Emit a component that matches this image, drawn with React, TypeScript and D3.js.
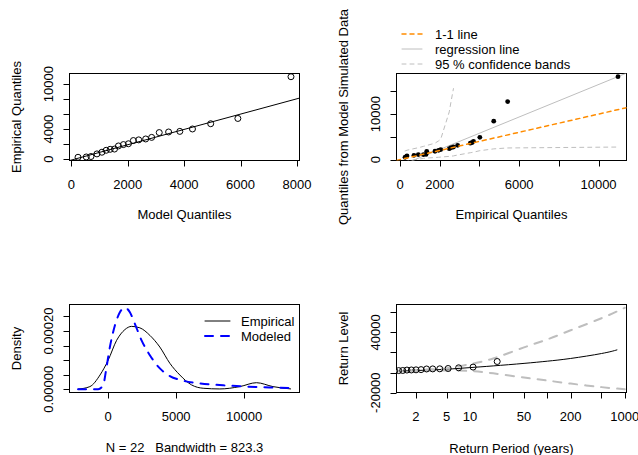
import React from 'react';
import * as d3 from 'd3';

const W = 638;
const H = 455;

// ---------- Panel 1 & 2 : quantile data ----------
const empiricalQuantiles = [250, 290, 350, 700, 920, 1180, 1310, 1345, 1760, 1940, 2050, 2480, 2570, 2690, 2900, 3540, 3620, 3700, 4020, 4720, 5420, 10980];
const modelQuantiles = [236, 529, 695, 907, 1083, 1235, 1377, 1529, 1670, 1846, 2023, 2199, 2389, 2636, 2848, 3117, 3449, 3847, 4296, 4942, 5906, 7790];
const qqLineCoef = [-120, 1.02]; // intercept, slope

const simulatedQuantiles = [500, 600, 790, 940, 1090, 1100, 1120, 1810, 1830, 2030, 2190, 2400, 2620, 2760, 3130, 3600, 3720, 4000, 4880, 8440, 12750, 18220];
const regressionCoef = [-1350, 1.785];
const bandUpper = [1900, 1950, 2050, 2400, 2600, 2900, 3050, 3100, 3600, 4100, 4500, 10500, 12800, 15600, NaN, NaN, NaN, NaN, NaN, NaN, NaN, NaN];
const bandLower = [-600, -500, -400, -50, 100, 250, 320, 330, 450, 500, 550, 700, 750, 800, 1000, 1500, 1560, 1620, 1950, 2350, 2550, 2750];

const p1XTicks = [0, 2000, 4000, 6000, 8000];
const p1XLabels = ['0', '2000', '4000', '6000', '8000'];
const p1YTicks = [0, 2000, 4000, 6000, 8000, 10000];
const p1YLabels = ['0', '', '4000', '', '', '10000'];

const p2XTicks = [0, 2000, 4000, 6000, 8000, 10000];
const p2XLabels = ['0', '2000', '', '6000', '', '10000'];
const p2YTicks = [0, 5000, 10000, 15000];
const p2YLabels = ['0', '', '10000', ''];
const p2Legend = ['1-1 line', 'regression line', '95 % confidence bands'];

// ---------- Panel 3 : density ----------
const densityEmpX = [-2220, -1350, -600, 0, 620, 1230, 1720, 2330, 3070, 3800, 4540, 5270, 6130, 6990, 8210, 9680, 10910, 12130, 13450];
const densityEmpY = [0.0000005, 0.000009, 0.000049, 0.0001, 0.000168, 0.000205, 0.000216, 0.000211, 0.000185, 0.000145, 0.000089, 0.000049, 0.000015, 0.0000034, 0.000001, 0.000009, 0.0000225, 0.000009, 0.000001];
const densityModX = [-2220, -735, -368, -118, 125, 493, 860, 1228, 1596, 1963, 2456, 3066, 3801, 4537, 5515, 6743, 8456, 10176, 11890, 13450];
const densityModY = [0, 0, 0.0000147, 0.000077, 0.000145, 0.000219, 0.0002645, 0.00028, 0.0002645, 0.000225, 0.000168, 0.000117, 0.0000716, 0.0000453, 0.0000293, 0.0000204, 0.0000136, 0.0000092, 0.000006, 0.000004];
const p3XTicks = [0, 5000, 10000];
const p3XLabels = ['0', '5000', '10000'];
const p3YTicks = [0, 0.00005, 0.0001, 0.00015, 0.0002, 0.00025];
const p3YLabels = ['0.00000', '', '', '', '0.00020', ''];
const p3Legend = ['Empirical', 'Modeled'];
const p3Sub = 'N = 22   Bandwidth = 823.3';

// ---------- Panel 4 : return levels ----------
const rpPoints = [0.3195, 0.4095, 0.491, 0.572, 0.655, 0.744, 0.840, 0.947, 1.066, 1.201, 1.356, 1.537, 1.753, 2.014, 2.340, 2.756, 3.308, 4.080, 5.233, 7.153, 10.99, 22.5];
const rpLevelT = [1.05, 1.5, 2, 3, 5, 10, 20, 50, 100, 200, 500, 800];
const rpLevel = [1150, 1650, 2000, 2500, 3300, 4900, 6600, 9100, 11300, 14000, 18900, 22600];
const rpCiT = [1.05, 1.5, 2, 3, 5, 10, 20, 50, 100, 200, 500, 1000];
const rpUpper = [1450, 2000, 2500, 3200, 4300, 8300, 14000, 25000, 33000, 42000, 54000, 64400];
const rpLower = [850, 1300, 1500, 1800, 2100, 1500, -800, -5000, -8000, -11000, -14500, -16600];
const p4XTicks = [2, 5, 10, 20, 50, 100, 200, 500, 1000];
const p4XLabels = ['2', '5', '10', '', '50', '', '200', '', '1000'];
const p4YTicks = [-20000, 0, 20000, 40000, 60000];
const p4YLabels = ['-20000', '', '', '40000', ''];

const FONT = '"Liberation Sans", Arial, Helvetica, sans-serif';
const FS = 13;
const GRAY = '#BEBEBE';

type Box = { l: number; r: number; t: number; b: number };
const B1: Box = { l: 69.5, r: 299.5, t: 73.5, b: 160.5 };
const B2: Box = { l: 396.5, r: 626.5, t: 73.5, b: 160.5 };
const B3: Box = { l: 69.5, r: 299.5, t: 304.5, b: 392.5 };
const B4: Box = { l: 396.5, r: 626.5, t: 304.5, b: 392.5 };

function pad(ext: [number, number]): [number, number] {
  const r = ext[1] - ext[0];
  return [ext[0] - 0.04 * r, ext[1] + 0.04 * r];
}

function Axes({ box, x, y, xt, xl, yt, yl, id }: any) {
  return (
    <g>
      <rect x={box.l} y={box.t} width={box.r - box.l} height={box.b - box.t} fill="none" stroke="#000" strokeWidth={1} />
      {xt.map((t: number, i: number) => (
        <g key={'x' + i}>
          <line x1={Math.round(x(t)) + 0.5} x2={Math.round(x(t)) + 0.5} y1={box.b} y2={box.b + 6} stroke="#000" />
          {xl[i] ? (
            <text x={x(t)} y={box.b + 24} dy="0.35em" textAnchor="middle" fontSize={FS} fontFamily={FONT} fill="#000">{xl[i]}</text>
          ) : null}
        </g>
      ))}
      {yt.map((t: number, i: number) => (
        <g key={'y' + i}>
          <line x1={box.l - 6} x2={box.l} y1={Math.round(y(t)) + 0.5} y2={Math.round(y(t)) + 0.5} stroke="#000" />
          {yl[i] ? (
            <text transform={`translate(${box.l - 21},${y(t)}) rotate(-90)`} dy="0.35em" textAnchor="middle" fontSize={FS} fontFamily={FONT} fill="#000">{yl[i]}</text>
          ) : null}
        </g>
      ))}
      <clipPath id={id}>
        <rect x={box.l} y={box.t} width={box.r - box.l} height={box.b - box.t} />
      </clipPath>
    </g>
  );
}

function Label({ x, y, text, rotate }: any) {
  return (
    <text transform={`translate(${x},${y})${rotate ? ' rotate(-90)' : ''}`} dy="0.35em" textAnchor="middle" fontSize={FS} fontFamily={FONT} fill="#000" style={{ whiteSpace: 'pre' }}>{text}</text>
  );
}

export default function App() {
  // Panel 1
  const x1 = d3.scaleLinear().domain(pad(d3.extent(modelQuantiles) as any)).range([B1.l, B1.r]);
  const y1 = d3.scaleLinear().domain(pad(d3.extent(empiricalQuantiles) as any)).range([B1.b, B1.t]);
  const d1 = x1.domain();
  const qqLine = d3.line()([[x1(d1[0]), y1(qqLineCoef[0] + qqLineCoef[1] * d1[0])], [x1(d1[1]), y1(qqLineCoef[0] + qqLineCoef[1] * d1[1])]]);

  // Panel 2
  const x2 = d3.scaleLinear().domain(pad(d3.extent(empiricalQuantiles) as any)).range([B2.l, B2.r]);
  const y2 = d3.scaleLinear().domain(pad(d3.extent(simulatedQuantiles) as any)).range([B2.b, B2.t]);
  const d2 = x2.domain();
  const oneLine = d3.line()([[x2(d2[0]), y2(d2[0])], [x2(d2[1]), y2(d2[1])]]);
  const regLine = d3.line()([[x2(d2[0]), y2(regressionCoef[0] + regressionCoef[1] * d2[0])], [x2(d2[1]), y2(regressionCoef[0] + regressionCoef[1] * d2[1])]]);
  const bandGen = d3.line<number>().defined((d) => !isNaN(d)).x((_, i) => x2(empiricalQuantiles[i])).y((d) => y2(d));

  // Panel 3
  const x3 = d3.scaleLinear().domain(pad([densityEmpX[0], densityEmpX[densityEmpX.length - 1]])).range([B3.l, B3.r]);
  const y3 = d3.scaleLinear().domain(pad([0, d3.max(densityModY.concat(densityEmpY)) as number])).range([B3.b, B3.t]);
  const empLine = d3.line<number>().x((d) => x3(d)).y((_, i) => y3(densityEmpY[i])).curve(d3.curveMonotoneX)(densityEmpX);
  const modLine = d3.line<number>().x((d) => x3(d)).y((_, i) => y3(densityModY[i])).curve(d3.curveMonotoneX)(densityModX);

  // Panel 4
  const x4 = d3.scaleLog().domain([1.127, 1052]).range([B4.l, B4.r]);
  const y4 = d3.scaleLinear().domain(pad([d3.min(rpLower) as number, d3.max(rpUpper) as number])).range([B4.b, B4.t]);
  const rlGen = (ts: number[], arr: number[]) => d3.line<number>().x((d) => x4(d)).y((_, i) => y4(arr[i])).curve(d3.curveNatural)(ts);

  return (
    <svg width={W} height={H} style={{ position: 'absolute', left: 0, top: 0, background: '#fff' }} xmlns="http://www.w3.org/2000/svg">
      <rect x={0} y={0} width={W} height={H} fill="#fff" />

      {/* Panel 1 */}
      <Axes box={B1} x={x1} y={y1} xt={p1XTicks} xl={p1XLabels} yt={p1YTicks} yl={p1YLabels} id="c1" />
      <g clipPath="url(#c1)">
        <path d={qqLine || ''} stroke="#000" fill="none" strokeWidth={1} />
        {modelQuantiles.map((m, i) => (
          <circle key={i} cx={x1(m)} cy={y1(empiricalQuantiles[i])} r={3} fill="none" stroke="#000" strokeWidth={1} />
        ))}
      </g>
      <Label x={(B1.l + B1.r) / 2} y={B1.b + 54} text="Model Quantiles" />
      <Label x={16} y={(B1.t + B1.b) / 2} text="Empirical Quantiles" rotate />

      {/* Panel 2 */}
      <Axes box={B2} x={x2} y={y2} xt={p2XTicks} xl={p2XLabels} yt={p2YTicks} yl={p2YLabels} id="c2" />
      <g clipPath="url(#c2)">
        <path d={bandGen(bandUpper) || ''} stroke={GRAY} fill="none" strokeDasharray="4,4" strokeLinecap="round" />
        <path d={bandGen(bandLower) || ''} stroke={GRAY} fill="none" strokeDasharray="4,4" strokeLinecap="round" />
        <path d={regLine || ''} stroke={GRAY} fill="none" strokeWidth={1} />
        {empiricalQuantiles.map((e, i) => (
          <circle key={i} cx={x2(e)} cy={y2(simulatedQuantiles[i])} r={2.4} fill="#000" />
        ))}
        <path d={oneLine || ''} stroke="#FF8C00" fill="none" strokeWidth={1.5} strokeDasharray="4,4" strokeLinecap="round" />
      </g>
      {p2Legend.map((t, i) => (
        <g key={i}>
          <line x1={402} x2={422} y1={34 + i * 15} y2={34 + i * 15}
            stroke={i === 0 ? '#FF8C00' : GRAY} strokeWidth={i === 0 ? 1.5 : 1}
            strokeDasharray={i === 1 ? undefined : '4,4'} strokeLinecap="round" />
          <text x={435} y={34 + i * 15} dy="0.35em" fontSize={FS} fontFamily={FONT} fill="#000">{t}</text>
        </g>
      ))}
      <Label x={(B2.l + B2.r) / 2} y={B2.b + 54} text="Empirical Quantiles" />
      <Label x={343} y={(B2.t + B2.b) / 2} text="Quantiles from Model Simulated Data" rotate />

      {/* Panel 3 */}
      <Axes box={B3} x={x3} y={y3} xt={p3XTicks} xl={p3XLabels} yt={p3YTicks} yl={p3YLabels} id="c3" />
      <g clipPath="url(#c3)">
        <path d={empLine || ''} stroke="#000" fill="none" strokeWidth={1} />
        <path d={modLine || ''} stroke="#0000FF" fill="none" strokeWidth={2} strokeDasharray="8,8" strokeLinecap="round" />
      </g>
      {p3Legend.map((t, i) => (
        <g key={i}>
          <line x1={205} x2={230} y1={321 + i * 15} y2={321 + i * 15}
            stroke={i === 0 ? '#000' : '#0000FF'} strokeWidth={i === 0 ? 1 : 2}
            strokeDasharray={i === 0 ? undefined : '8,8'} strokeLinecap="round" />
          <text x={241} y={321 + i * 15} dy="0.35em" fontSize={FS} fontFamily={FONT} fill="#000">{t}</text>
        </g>
      ))}
      <Label x={(B3.l + B3.r) / 2} y={B3.b + 54.5} text={p3Sub} />
      <Label x={16} y={(B3.t + B3.b) / 2} text="Density" rotate />

      {/* Panel 4 */}
      <Axes box={B4} x={x4} y={y4} xt={p4XTicks} xl={p4XLabels} yt={p4YTicks} yl={p4YLabels} id="c4" />
      <g clipPath="url(#c4)">
        <path d={rlGen(rpLevelT, rpLevel) || ''} stroke="#000" fill="none" strokeWidth={1} />
        <path d={rlGen(rpCiT, rpUpper) || ''} stroke={GRAY} fill="none" strokeWidth={2} strokeDasharray="8,8" strokeLinecap="round" />
        <path d={rlGen(rpCiT, rpLower) || ''} stroke={GRAY} fill="none" strokeWidth={2} strokeDasharray="8,8" strokeLinecap="round" />
        {rpPoints.map((t, i) => (
          <circle key={i} cx={x4(t)} cy={y4(empiricalQuantiles[i])} r={3} fill="none" stroke="#000" strokeWidth={1} />
        ))}
      </g>
      <Label x={(B4.l + B4.r) / 2} y={B4.b + 56} text="Return Period (years)" />
      <Label x={343} y={(B4.t + B4.b) / 2} text="Return Level" rotate />
    </svg>
  );
}
